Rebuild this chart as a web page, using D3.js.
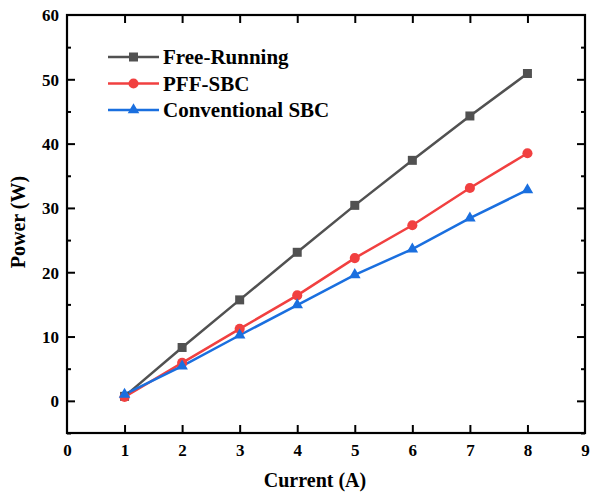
<!DOCTYPE html>
<meta charset="utf-8">
<style>
body { margin: 0; background: #fff; }
text { font-family: "Liberation Serif", "Times New Roman", serif; font-weight: bold; }
</style>
<svg width="590" height="492"></svg>
<script src="https://d3js.org/d3.v7.min.js"></script>
<script>
"use strict";

// data
var current = [1, 2, 3, 4, 5, 6, 7, 8];
var freeRunning = [0.7, 8.3, 15.7, 23.1, 30.4, 37.4, 44.3, 50.9];
var pffSbc = [0.6, 5.9, 11.2, 16.4, 22.2, 27.3, 33.1, 38.5];
var convSbc = [1.0, 5.4, 10.2, 14.9, 19.6, 23.6, 28.4, 32.8];
var seriesNames = ["Free-Running", "PFF-SBC", "Conventional SBC"];
var xTicks = [0, 1, 2, 3, 4, 5, 6, 7, 8, 9];
var yTicks = [0, 10, 20, 30, 40, 50, 60];
var yMinor = [-5, 5, 15, 25, 35, 45, 55];

var colors = ["#515151", "#F14040", "#1A6FDF"];
var symbols = [d3.symbolSquare, d3.symbolCircle, d3.symbolTriangle];
var symSize = [81, 80, 58];

var svg = d3.select("svg");
var pLeft = 67, pRight = 585, pTop = 15, pBottom = 433;

var x = d3.scaleLinear().domain([0, 9]).range([pLeft, pRight]);
var y = d3.scaleLinear().domain([-5, 60]).range([pBottom, pTop]);

// axes, ticks inward on all four sides
var g = svg.append("g");
function axis(gen, tx, ty, ticks, size, labels) {
  var a = g.append("g").attr("transform", "translate(" + tx + "," + ty + ")")
    .call(gen.tickValues(ticks).tickSize(size).tickSizeOuter(0).tickPadding(size > 0 ? 9 : 12));
  a.select(".domain").remove();
  a.selectAll("line").attr("stroke", "#000").attr("stroke-width", 2);
  if (!labels) a.selectAll("text").remove();
  else a.selectAll("text").attr("font-size", 17).attr("fill", "#000");
  return a;
}
var xb = axis(d3.axisBottom(x).tickFormat(d3.format("d")), 0, pBottom, xTicks, -8, true);
xb.selectAll(".tick line").filter(function(d) { return d == 0 || d == 9; }).remove();
xb.selectAll("text").attr("y", 11);
axis(d3.axisTop(x), 0, pTop, xTicks.slice(1, 9), -8, false);
var yl = axis(d3.axisLeft(y).tickFormat(d3.format("d")), pLeft, 0, yTicks, -8, true);
yl.selectAll(".tick line").filter(function(d) { return d == 60; }).remove();
yl.selectAll("text").attr("x", -8).attr("dy", "0.35em");
axis(d3.axisLeft(y), pLeft, 0, yMinor, -4, false);
axis(d3.axisRight(y), pRight, 0, yTicks.slice(0, 6), -8, false);
axis(d3.axisRight(y), pRight, 0, yMinor, -4, false);

g.append("rect").attr("x", pLeft).attr("y", pTop)
  .attr("width", pRight - pLeft).attr("height", pBottom - pTop)
  .attr("fill", "none").attr("stroke", "#000").attr("stroke-width", 2.2);

// series
var all = [freeRunning, pffSbc, convSbc];
var line = d3.line().x(function(d, i) { return x(current[i]); }).y(function(d) { return y(d); });
all.forEach(function(vals, k) {
  svg.append("path").datum(vals).attr("d", line)
    .attr("fill", "none").attr("stroke", colors[k]).attr("stroke-width", 2.5);
});
all.forEach(function(vals, k) {
  svg.append("g").selectAll("path").data(vals).enter().append("path")
    .attr("d", d3.symbol().type(symbols[k]).size(symSize[k]))
    .attr("transform", function(d, i) { return "translate(" + x(current[i]) + "," + y(d) + ")"; })
    .attr("fill", colors[k]);
});

// legend
var leg = svg.append("g").attr("transform", "translate(108,57)");
seriesNames.forEach(function(name, k) {
  var r = leg.append("g").attr("transform", "translate(0," + (k * 26.5) + ")");
  r.append("line").attr("x1", 0).attr("x2", 51).attr("stroke", colors[k]).attr("stroke-width", 2.5);
  r.append("path").attr("d", d3.symbol().type(symbols[k]).size(symSize[k]))
    .attr("transform", "translate(25.5,0)").attr("fill", colors[k]);
  r.append("text").attr("x", 55).attr("dy", "0.35em").attr("font-size", 21).text(name);
});

// axis titles
svg.append("text").attr("x", 315).attr("y", 487).attr("text-anchor", "middle")
  .attr("font-size", 20).text("Current (A)");
svg.append("text").attr("transform", "translate(25,222) rotate(-90)")
  .attr("text-anchor", "middle").attr("font-size", 20).text("Power (W)");
</script>
